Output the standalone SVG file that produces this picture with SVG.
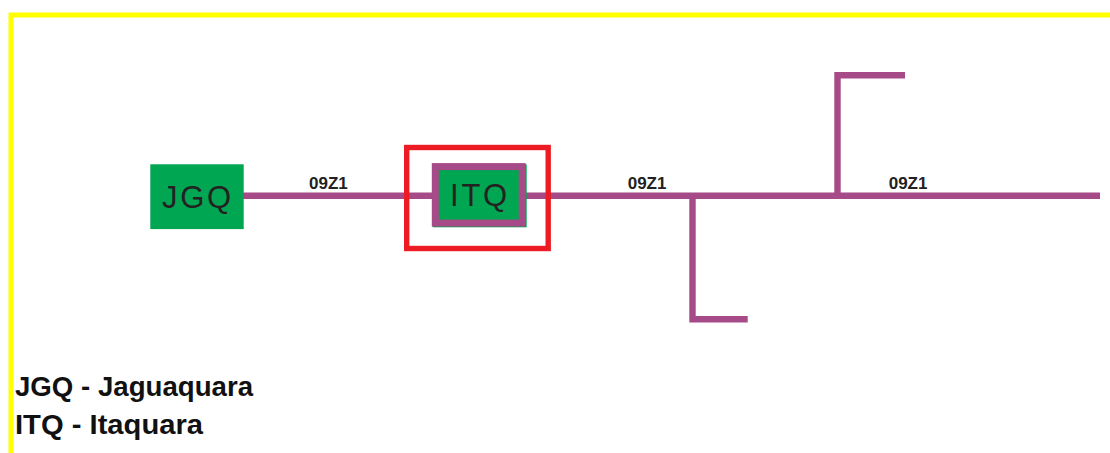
<svg xmlns="http://www.w3.org/2000/svg" width="1110" height="453" viewBox="0 0 1110 453">
<style>
.line{fill:none;stroke:#A64A88;stroke-width:6.4;stroke-linejoin:miter;stroke-linecap:butt}
.box{fill:#00A651}
.node{font-family:"Liberation Sans",Arial,sans-serif;font-size:31px;fill:#222;letter-spacing:2.7px}
.lbl{font-family:"Liberation Sans",Arial,sans-serif;font-size:17px;font-weight:bold;fill:#222}
.legend{font-family:"Liberation Sans",Arial,sans-serif;font-size:27px;font-weight:bold;fill:#111}
</style>
<rect width="1110" height="453" fill="#FFFFFF"/>
<g id="frame">
<path d="M11 453 V15 H1110" fill="none" stroke="#FFFF00" stroke-width="5"/>
</g>
<g id="connectors">
<path class="line" d="M243 195.8 H1100"/>
<path class="line" d="M692.5 195.8 V319.3 H747.7"/>
<path class="line" d="M837.5 195.8 V75.3 H905"/>
<text class="lbl" x="309" y="188.7">09Z1</text>
<text class="lbl" x="627.7" y="188.7">09Z1</text>
<text class="lbl" x="888.7" y="188.7">09Z1</text>
</g>
<g id="JGQ">
<rect class="box" x="150.3" y="164.3" width="93.4" height="64.8"/>
<text class="node" x="198" y="208.3" text-anchor="middle">JGQ</text>
</g>
<g id="ITQ">
<rect x="406.7" y="147.5" width="141.5" height="101" fill="none" stroke="#ED1C24" stroke-width="5.4"/>
<rect class="box" x="432.7" y="164.3" width="94" height="63"/>
<rect class="box" x="435.3" y="166.6" width="86.9" height="56.5" stroke="#A64A88" stroke-width="7"/>
<text class="node" x="480" y="205.7" text-anchor="middle">ITQ</text>
</g>
<g id="legend">
<text class="legend" x="15" y="396" textLength="238" lengthAdjust="spacingAndGlyphs">JGQ - Jaguaquara</text>
<text class="legend" x="15" y="434.3" textLength="188" lengthAdjust="spacingAndGlyphs">ITQ - Itaquara</text>
</g>
</svg>
